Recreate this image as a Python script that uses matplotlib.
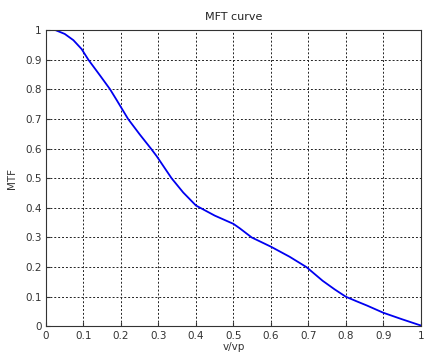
import numpy as np
import matplotlib
matplotlib.use('Agg')
import matplotlib.pyplot as plt

# normalised frequency v/vp and MTF values
freq = [0, 0.025, 0.05, 0.073, 0.095, 0.113, 0.144, 0.171, 0.188, 0.219,
        0.25, 0.28, 0.295, 0.335, 0.366, 0.4, 0.45, 0.5, 0.517, 0.549, 0.6,
        0.65, 0.695, 0.738, 0.77, 0.8, 0.83, 0.857, 0.9, 0.95, 1.0]
mtf = [1.0, 1.0, 0.987, 0.966, 0.936, 0.9, 0.847, 0.8, 0.765, 0.7,
       0.648, 0.6, 0.575, 0.5, 0.452, 0.408, 0.374, 0.346, 0.331, 0.3, 0.269,
       0.235, 0.2, 0.154, 0.125, 0.1, 0.084, 0.07, 0.046, 0.024, 0.003]
x_ticks = [0, 0.1, 0.2, 0.3, 0.4, 0.5, 0.6, 0.7, 0.8, 0.9, 1]
y_ticks = [0, 0.1, 0.2, 0.3, 0.4, 0.5, 0.6, 0.7, 0.8, 0.9, 1]

plt.rcParams['font.family'] = ['DejaVu Sans']

fig = plt.figure(figsize=(4.24, 3.54), dpi=100)
ax = fig.add_axes([0.1085, 0.078, 0.884, 0.837])

ax.plot(freq, mtf, color='#0000f0', linewidth=1.3)

ax.set_xlim(0, 1)
ax.set_ylim(0, 1)
ax.set_xticks(x_ticks)
ax.set_yticks(y_ticks)
ax.set_xticklabels([f'{t:g}' for t in x_ticks])
ax.set_yticklabels([f'{t:g}' for t in y_ticks])
ax.tick_params(direction='in', length=3, colors='#333333', labelsize=7.5, pad=3)
ax.grid(True, linestyle=(0, (2, 2)), color='#222222', linewidth=0.7)

for s in ax.spines.values():
    s.set_linewidth(0.8)
    s.set_color('#333333')

ax.set_title('MFT curve', fontsize=8, pad=7, color='#222222')
ax.set_xlabel('v/vp', fontsize=7.5, labelpad=1, color='#333333')
ax.set_ylabel('MTF', fontsize=7.5, labelpad=6, color='#333333')

fig.savefig('out.png', dpi=100)
